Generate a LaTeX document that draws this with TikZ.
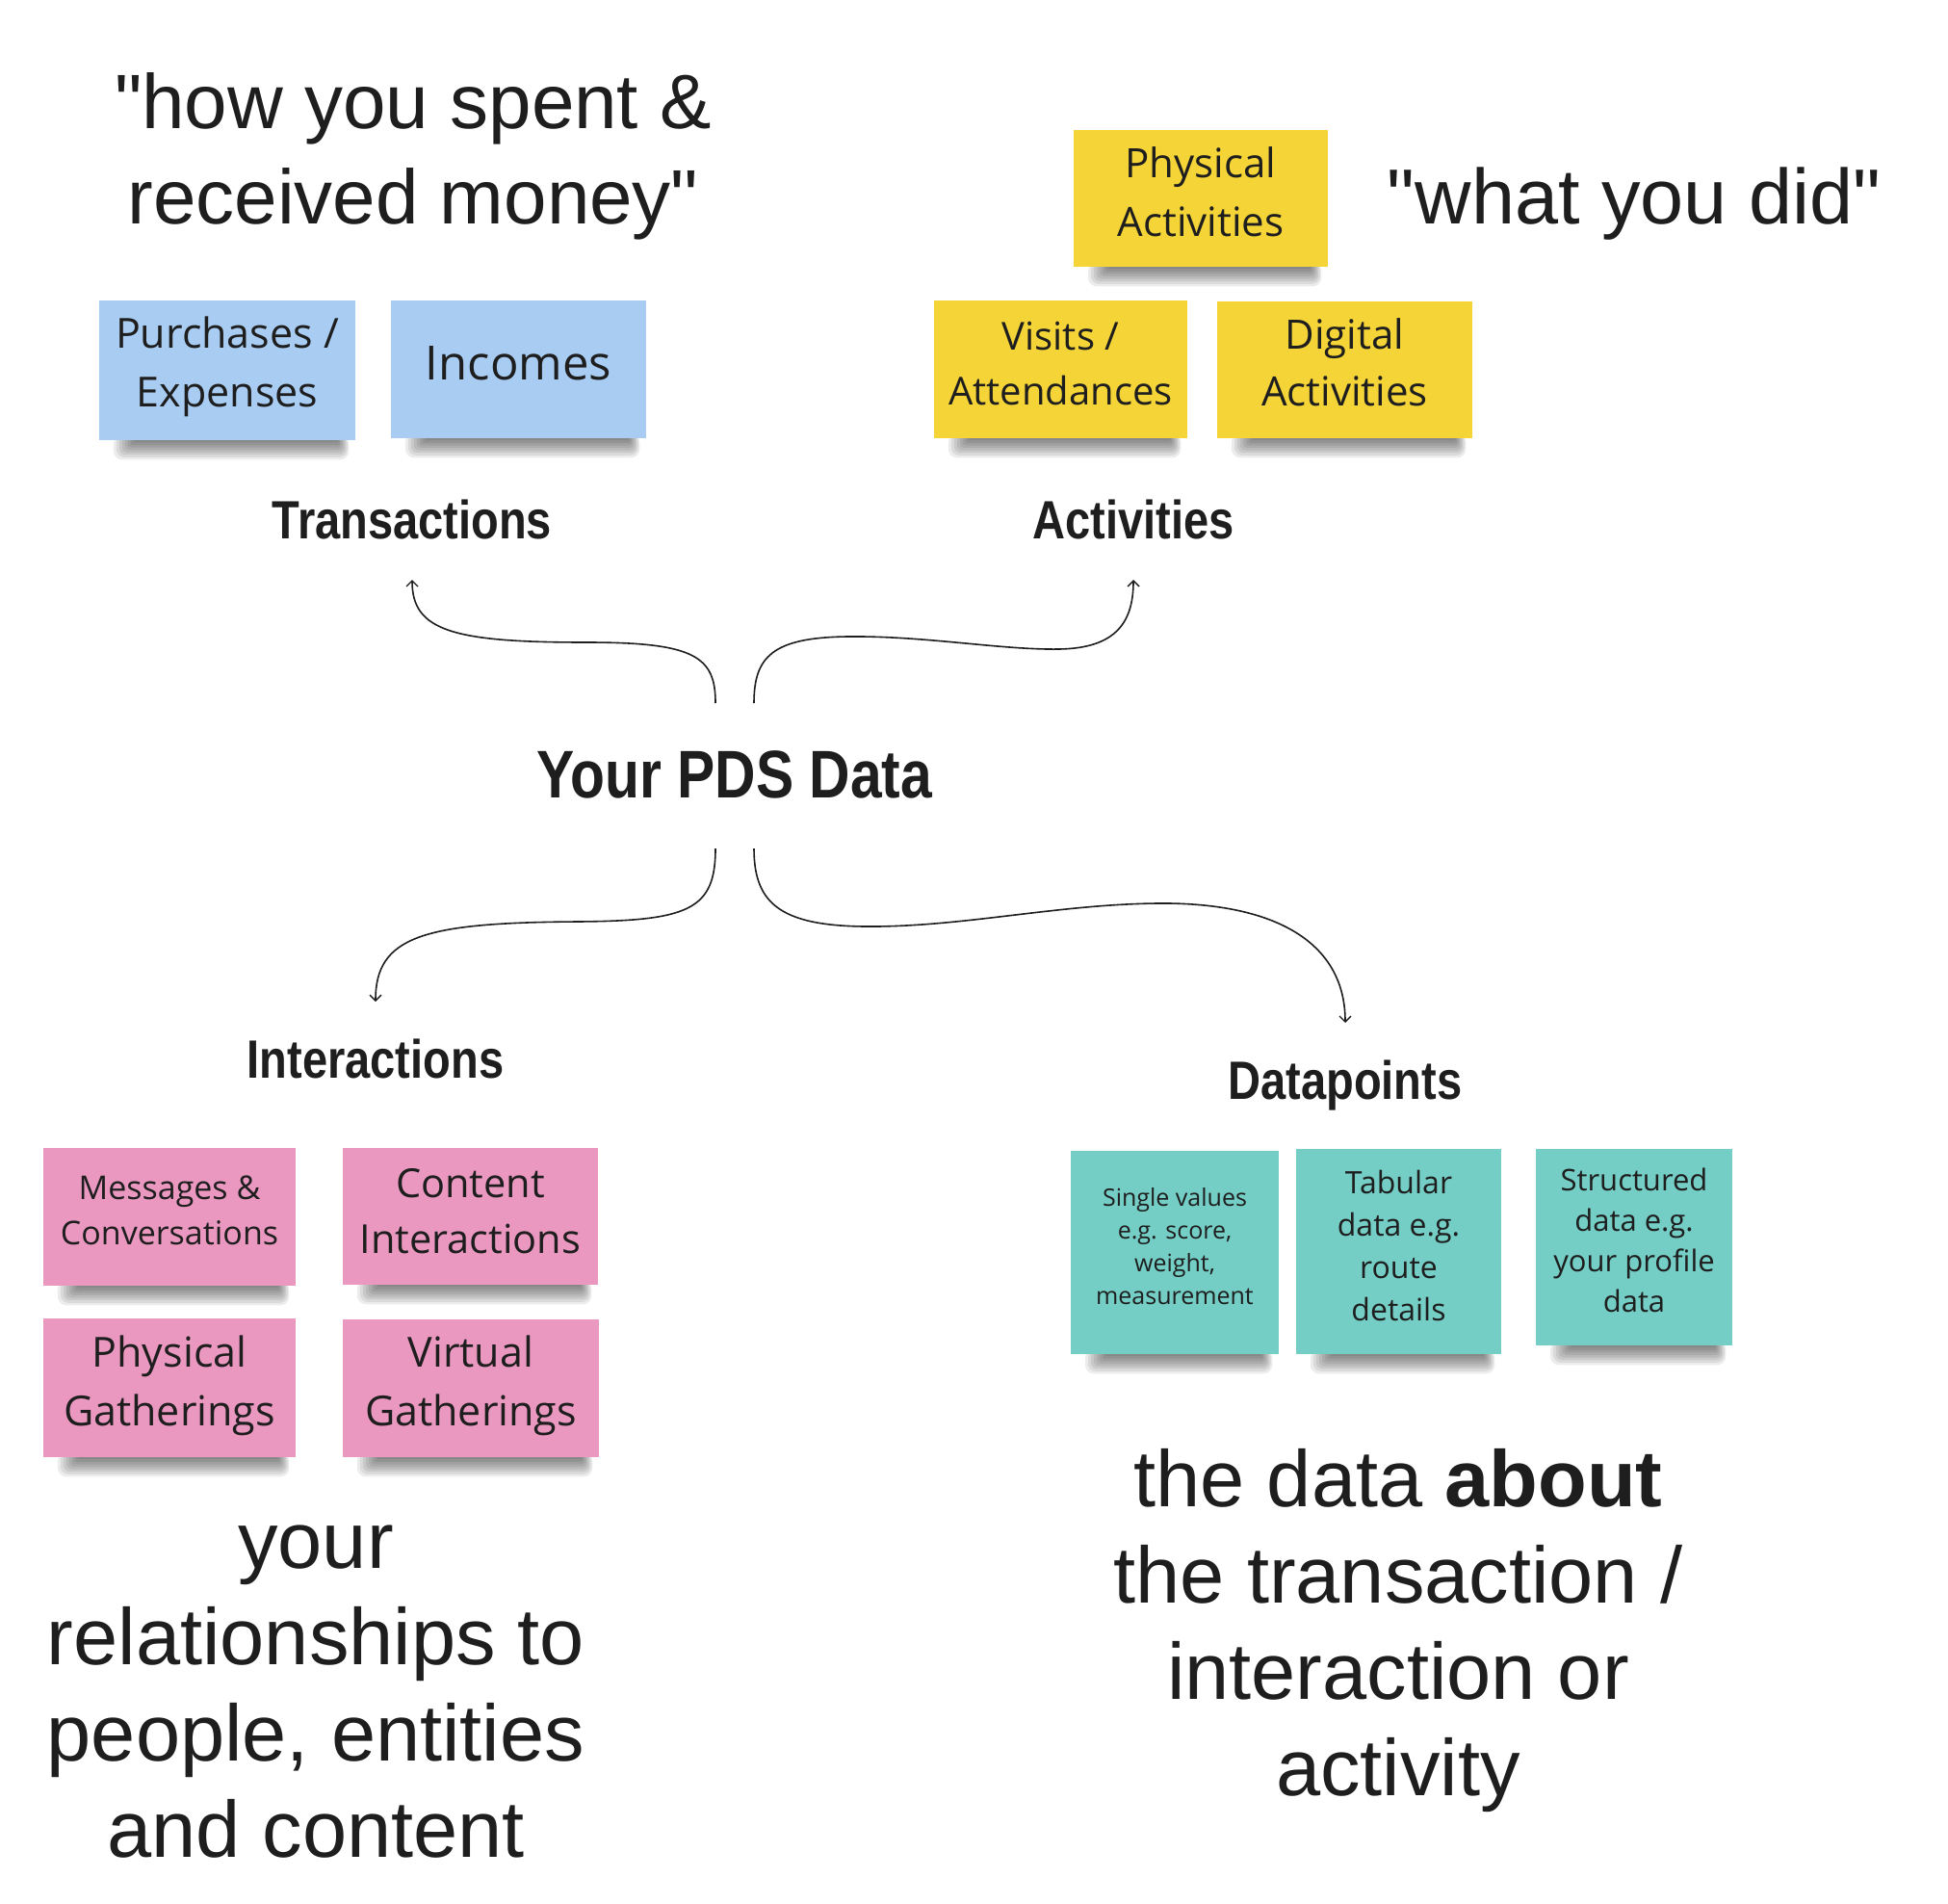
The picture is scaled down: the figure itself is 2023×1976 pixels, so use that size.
\documentclass[tikz,border=0pt]{standalone}
\usepackage{fontspec}
\setmainfont{Liberation Sans}[Ligatures=TeXOff]
\newfontfamily\notefont{Open Sans}
\newfontfamily\headfont[FakeStretch=0.84]{Liberation Sans}
\usetikzlibrary{arrows.meta,calc,backgrounds}

\definecolor{noteblue}{HTML}{A8CCF2}
\definecolor{noteyellow}{HTML}{F5D437}
\definecolor{notepink}{HTML}{EA98C0}
\definecolor{noteteal}{HTML}{74CEC5}
\definecolor{inkgray}{HTML}{1E1E1E}

\tikzset{
  sticky/.style={inner sep=0pt, align=center, font=\notefont, text=inkgray},
  lift/.style={text depth=#1},
  bigtext/.style={align=center, text=inkgray, inner sep=0pt},
  heading/.style={text=inkgray, inner sep=0pt, font=\headfont\bfseries},
  flow/.style={line width=1.6pt, draw=inkgray,
    -{Straight Barb[length=6pt,width=12pt,line width=1.4pt]}},
}

% soft shadow under the bottom edge of a sticky note, built from
% stacked translucent layers that spread a little further each time
\newcommand{\notecast}[1]{%
  \foreach \k in {0,...,7}{%
    \pgfmathsetmacro\rc{1+1.2*\k}%
    \fill[black, opacity=0.075, rounded corners=\rc pt]
      ($(#1.south west)+(36-3*\k,-5)$) rectangle ($(#1.south east)+(-18+1.6*\k,2+2.6*\k)$);
  }}

\begin{document}
\begin{tikzpicture}[x=1pt,y=-1pt]
\begin{scope}[on background layer]
  \fill[white] (0,0) rectangle (2023,1976);
\end{scope}
\useasboundingbox (0,0) rectangle (2023,1976);

% ---- quotes ----
\node[bigtext, font=\fontsize{80}{99}\selectfont] (qmoney) at (429,162)
  {"how you spent \&\\received money"};
\node[bigtext, font=\fontsize{81}{99}\selectfont] (qdid) at (1697,212) {"what you did"};

% ---- transaction notes ----
\node[sticky, fill=noteblue, minimum width=266, minimum height=145, lift=18pt,
  font=\notefont\fontsize{43}{61}\selectfont] (purch) at (236,384.5) {Purchases /\\Expenses};
\node[sticky, fill=noteblue, minimum width=265, minimum height=143, lift=13pt,
  font=\notefont\fontsize{49}{61}\selectfont] (income) at (538.5,383.5) {Incomes};

% ---- activity notes ----
\node[sticky, fill=noteyellow, minimum width=264, minimum height=142, lift=13pt,
  font=\notefont\fontsize{42}{61}\selectfont] (physact) at (1247,206) {Physical\\Activities};
\node[sticky, fill=noteyellow, minimum width=263, minimum height=143, lift=13pt,
  font=\notefont\fontsize{40}{57}\selectfont] (visits) at (1101.5,383.5) {Visits /\\Attendances};
\node[sticky, fill=noteyellow, minimum width=265, minimum height=142, lift=15pt,
  font=\notefont\fontsize{42}{59}\selectfont] (digital) at (1396.5,384) {Digital\\Activities};

% ---- headings ----
\node[heading, font=\headfont\bfseries\fontsize{56}{60}\selectfont] (trans) at (428,539) {Transactions};
\node[heading, font=\headfont\bfseries\fontsize{56}{60}\selectfont] (activ) at (1177,539) {Activities};
\node[heading, font=\headfont\bfseries\fontsize{70}{75}\selectfont] (pds) at (763,804) {Your PDS Data};
\node[heading, font=\headfont\bfseries\fontsize{56}{60}\selectfont] (inter) at (390,1099) {Interactions};
\node[heading, font=\headfont\bfseries\fontsize{56}{60}\selectfont] (datap) at (1397,1127) {Datapoints};

% ---- connector ends ----
\coordinate (tlstart) at (743,730);
\coordinate (trstart) at (783,730);
\coordinate (blstart) at (743,881);
\coordinate (brstart) at (783,881);
\coordinate (transtip) at (428,602);
\coordinate (activtip) at (1177,602);
\coordinate (intertip) at (390,1040);
\coordinate (datatip) at (1397,1062);

\draw[flow] (tlstart) .. controls (743,682) and (722,667) .. (610,667)
  .. controls (470,667) and (428,655) .. (transtip);
\draw[flow] (trstart) .. controls (783,682) and (802,662) .. (880,661)
  .. controls (960,660) and (1040,675) .. (1100,674)
  .. controls (1160,673) and (1177,645) .. (activtip);
\draw[flow] (blstart) .. controls (743,945) and (715,956) .. (600,957)
  .. controls (440,958) and (390,972) .. (intertip);
\draw[flow] (brstart) .. controls (783,940) and (812,963) .. (910,962)
  .. controls (1010,961) and (1110,937) .. (1215,938)
  .. controls (1335,940) and (1397,985) .. (datatip);

% ---- interaction notes ----
\node[sticky, fill=notepink, minimum width=262, minimum height=143, lift=13pt,
  font=\notefont\fontsize{34}{47}\selectfont] (msgs) at (176,1263.5) {Messages \&\\Conversations};
\node[sticky, fill=notepink, minimum width=265, minimum height=142, lift=12pt,
  font=\notefont\fontsize{41.5}{58}\selectfont] (content) at (488.5,1263) {Content\\Interactions};
\node[sticky, fill=notepink, minimum width=262, minimum height=144, lift=14pt,
  font=\notefont\fontsize{43}{61}\selectfont] (physg) at (176,1441) {Physical\\Gatherings};
\node[sticky, fill=notepink, minimum width=266, minimum height=143, lift=16pt,
  font=\notefont\fontsize{43}{61}\selectfont] (virtg) at (489,1441.5) {Virtual\\Gatherings};

% ---- datapoint notes ----
\node[sticky, fill=noteteal, minimum width=216, minimum height=211, lift=14pt,
  font=\notefont\fontsize{25}{34}\selectfont] (single) at (1220,1300.5)
  {Single values\\e.g. score,\\weight,\\measurement};
\node[sticky, fill=noteteal, minimum width=213, minimum height=213, lift=13pt,
  font=\notefont\fontsize{32}{44}\selectfont] (tabular) at (1452.5,1299.5)
  {Tabular\\data e.g.\\route\\details};
\node[sticky, fill=noteteal, minimum width=204, minimum height=204, lift=15pt,
  font=\notefont\fontsize{31}{42}\selectfont] (struct) at (1697,1295)
  {Structured\\data e.g.\\your profile\\data};

% ---- note shadows, behind the notes ----
\begin{scope}[on background layer]
  \foreach \n in {purch,income,physact,visits,digital,msgs,content,physg,virtg,single,tabular,struct}
    {\notecast{\n}}
\end{scope}

% ---- captions ----
\node[bigtext, font=\fontsize{83}{100}\selectfont] (relcap) at (328,1757)
  {your\\relationships to\\people, entities\\and content};
\node[bigtext, font=\fontsize{83}{100}\selectfont] (aboutcap) at (1452,1693)
  {the data \textbf{about}\\the transaction /\\interaction or\\activity};
\end{tikzpicture}
\end{document}
